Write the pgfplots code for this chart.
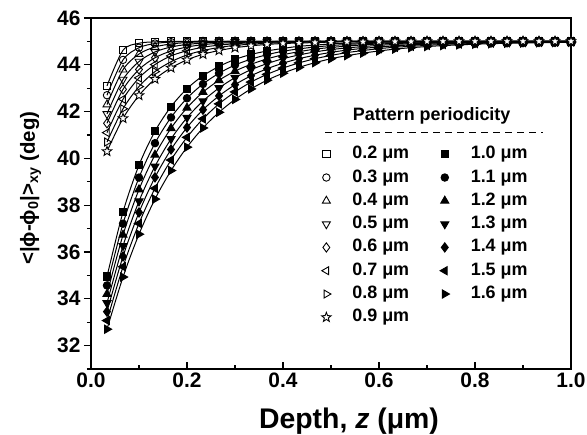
\documentclass[border=0pt]{standalone}
\usepackage{fontspec}
\setmainfont{Liberation Sans}
\usepackage{pgfplots}
\usepackage{pgfplotstable}
\pgfplotsset{compat=1.18}
\usetikzlibrary{plotmarks}

\pgfdeclareplotmark{ostar}{%
 \pgfpathmoveto{\pgfpointpolar{90}{\pgfplotmarksize}}%
 \pgfpathlineto{\pgfpointpolar{126}{0.42\pgfplotmarksize}}%
 \pgfpathlineto{\pgfpointpolar{162}{\pgfplotmarksize}}%
 \pgfpathlineto{\pgfpointpolar{198}{0.42\pgfplotmarksize}}%
 \pgfpathlineto{\pgfpointpolar{234}{\pgfplotmarksize}}%
 \pgfpathlineto{\pgfpointpolar{270}{0.42\pgfplotmarksize}}%
 \pgfpathlineto{\pgfpointpolar{306}{\pgfplotmarksize}}%
 \pgfpathlineto{\pgfpointpolar{342}{0.42\pgfplotmarksize}}%
 \pgfpathlineto{\pgfpointpolar{18}{\pgfplotmarksize}}%
 \pgfpathlineto{\pgfpointpolar{54}{0.42\pgfplotmarksize}}%
 \pgfpathclose
 \pgfusepathqfillstroke
}

% open-symbol series: 0.2 ... 0.9 um
\pgfplotstableread{
z a b c d e f g h
0.0333 43.10 42.70 42.30 41.90 41.50 41.10 40.70 40.30
0.0667 44.62 44.21 43.79 43.37 42.95 42.53 42.12 41.71
0.1000 44.92 44.73 44.46 44.14 43.80 43.44 43.07 42.69
0.1333 44.98 44.91 44.76 44.55 44.30 44.01 43.71 43.39
0.1667 45.00 44.97 44.89 44.76 44.59 44.38 44.13 43.87
0.2000 45.00 44.99 44.95 44.87 44.76 44.60 44.42 44.21
0.2333 45.00 45.00 44.98 44.93 44.86 44.75 44.61 44.45
0.2667 45.00 45.00 44.99 44.97 44.92 44.84 44.74 44.61
0.3000 45.00 45.00 45.00 44.98 44.95 44.90 44.83 44.73
0.3333 45.00 45.00 45.00 44.99 44.97 44.94 44.88 44.81
0.3667 45.00 45.00 45.00 44.99 44.98 44.96 44.92 44.87
0.4000 45.00 45.00 45.00 45.00 44.99 44.97 44.95 44.91
0.4333 45.00 45.00 45.00 45.00 44.99 44.98 44.96 44.93
0.4667 45.00 45.00 45.00 45.00 45.00 44.99 44.98 44.95
0.5000 45.00 45.00 45.00 45.00 45.00 44.99 44.98 44.97
0.5333 45.00 45.00 45.00 45.00 45.00 45.00 44.99 44.98
0.5667 45.00 45.00 45.00 45.00 45.00 45.00 44.99 44.98
0.6000 45.00 45.00 45.00 45.00 45.00 45.00 45.00 44.99
0.6333 45.00 45.00 45.00 45.00 45.00 45.00 45.00 44.99
0.6667 45.00 45.00 45.00 45.00 45.00 45.00 45.00 44.99
0.7000 45.00 45.00 45.00 45.00 45.00 45.00 45.00 45.00
0.7333 45.00 45.00 45.00 45.00 45.00 45.00 45.00 45.00
0.7667 45.00 45.00 45.00 45.00 45.00 45.00 45.00 45.00
0.8000 45.00 45.00 45.00 45.00 45.00 45.00 45.00 45.00
0.8333 45.00 45.00 45.00 45.00 45.00 45.00 45.00 45.00
0.8667 45.00 45.00 45.00 45.00 45.00 45.00 45.00 45.00
0.9000 45.00 45.00 45.00 45.00 45.00 45.00 45.00 45.00
0.9333 45.00 45.00 45.00 45.00 45.00 45.00 45.00 45.00
0.9667 45.00 45.00 45.00 45.00 45.00 45.00 45.00 45.00
1.0000 45.00 45.00 45.00 45.00 45.00 45.00 45.00 45.00
}\tabopen

% filled-symbol series: 1.0 ... 1.6 um
\pgfplotstableread{
z i j k l m n o
0.0333 34.95 34.57 34.20 33.82 33.45 33.07 32.70
0.0667 37.71 37.21 36.73 36.26 35.81 35.37 34.93
0.1000 39.71 39.18 38.67 38.17 37.69 37.22 36.76
0.1333 41.16 40.65 40.15 39.66 39.19 38.72 38.26
0.1667 42.21 41.75 41.29 40.83 40.38 39.93 39.48
0.2000 42.98 42.57 42.16 41.74 41.32 40.90 40.48
0.2333 43.53 43.18 42.83 42.45 42.08 41.69 41.30
0.2667 43.93 43.64 43.34 43.01 42.67 42.33 41.97
0.3000 44.23 43.99 43.73 43.45 43.15 42.84 42.52
0.3333 44.44 44.24 44.02 43.79 43.53 43.26 42.97
0.3667 44.59 44.43 44.25 44.05 43.83 43.59 43.34
0.4000 44.70 44.58 44.43 44.26 44.07 43.86 43.64
0.4333 44.79 44.68 44.56 44.42 44.26 44.08 43.89
0.4667 44.84 44.76 44.67 44.55 44.41 44.26 44.09
0.5000 44.89 44.82 44.74 44.65 44.53 44.40 44.26
0.5333 44.92 44.87 44.80 44.72 44.63 44.52 44.39
0.5667 44.94 44.90 44.85 44.78 44.70 44.61 44.50
0.6000 44.96 44.93 44.89 44.83 44.76 44.69 44.59
0.6333 44.97 44.94 44.91 44.87 44.81 44.75 44.67
0.6667 44.98 44.96 44.93 44.90 44.85 44.79 44.73
0.7000 44.98 44.97 44.95 44.92 44.88 44.83 44.78
0.7333 44.99 44.98 44.96 44.94 44.91 44.87 44.82
0.7667 44.99 44.98 44.97 44.95 44.92 44.89 44.85
0.8000 44.99 44.99 44.98 44.96 44.94 44.91 44.88
0.8333 45.00 44.99 44.98 44.97 44.95 44.93 44.90
0.8667 45.00 44.99 44.99 44.98 44.96 44.94 44.92
0.9000 45.00 44.99 44.99 44.98 44.97 44.95 44.93
0.9333 45.00 45.00 44.99 44.99 44.98 44.96 44.94
0.9667 45.00 45.00 44.99 44.99 44.98 44.97 44.95
1.0000 45.00 45.00 45.00 44.99 44.98 44.98 44.96
}\tabfilled

\begin{document}
\begin{tikzpicture}[x=1bp,y=1bp]
\useasboundingbox (-91,-66) rectangle (496,369);
\begin{axis}[
  at={(0,0)}, anchor=south west,
  scale only axis, width=480bp, height=351bp,
  xmin=0, xmax=1, ymin=31, ymax=46,
  xtick={0,0.2,0.4,0.6,0.8,1},
  minor xtick={0.1,0.3,0.5,0.7,0.9},
  ytick={32,34,36,38,40,42,44,46},
  minor ytick={31,33,35,37,39,41,43,45},
  xtick pos=bottom, ytick pos=left,
  xtick align=inside, ytick align=outside,
  major tick length=7bp, minor tick length=4bp,
  every tick/.style={black, line width=1.3bp},
  axis line style={line width=1.6bp},
  /pgf/number format/assume math mode=true,
  tick label style={font=\fontsize{21}{25}\selectfont\bfseries},
  xticklabel style={/pgf/number format/.cd, fixed, fixed zerofill, precision=1},
  yticklabel style={/pgf/number format/.cd, fixed, precision=0},
  xlabel={Depth, \textit{z} (μm)},
  xlabel style={font=\fontsize{28.5}{32}\selectfont\bfseries,
     at={(rel axis cs:0.5375,0)}, anchor=base, yshift=-59bp},
  ylabel={<|ϕ-ϕ\textsubscript{0}|>\textsubscript{xy} (deg)},
  ylabel style={font=\fontsize{20.5}{24}\selectfont\bfseries,
     at={(rel axis cs:-0.1167,0.515)}, anchor=base},
  every axis plot/.append style={black, line width=1bp, smooth},
  legend columns=2,
  legend cell align=left,
  legend image code/.code={\path[draw=none, fill=none] (0bp,-2bp) rectangle (26bp,2bp); \draw[#1, sharp plot] plot coordinates {(0bp,0bp)};},
  legend style={draw=none, fill=none, inner sep=0pt, at={(axis cs:0.480,40.55)}, anchor=north west,
     font=\fontsize{18}{20}\selectfont\bfseries,
     nodes={inner sep=0bp, text height=13bp, text depth=4bp},
     row sep=6.3bp,
     /tikz/every odd column/.append style={column sep=0bp},
     /tikz/every even column/.append style={column sep=31bp}},
]
\addplot[mark=square, mark size=3.6bp, mark options={fill=white, line width=0.9bp}] table[x=z,y=a]{\tabopen};
\addlegendentry{0.2 μm}
\addplot[mark=square*, mark size=3.6bp, mark options={fill=black}] table[x=z,y=i]{\tabfilled};
\addlegendentry{1.0 μm}
\addplot[mark=o, mark size=3.7bp, mark options={fill=white, line width=0.9bp}] table[x=z,y=b]{\tabopen};
\addlegendentry{0.3 μm}
\addplot[mark=*, mark size=3.7bp, mark options={fill=black}] table[x=z,y=j]{\tabfilled};
\addlegendentry{1.1 μm}
\addplot[mark=triangle, mark size=4.6bp, mark options={fill=white, line width=0.9bp}] table[x=z,y=c]{\tabopen};
\addlegendentry{0.4 μm}
\addplot[mark=triangle*, mark size=4.6bp, mark options={fill=black}] table[x=z,y=k]{\tabfilled};
\addlegendentry{1.2 μm}
\addplot[mark=triangle, mark size=4.6bp, mark options={fill=white, line width=0.9bp, rotate=180}] table[x=z,y=d]{\tabopen};
\addlegendentry{0.5 μm}
\addplot[mark=triangle*, mark size=4.6bp, mark options={fill=black, rotate=180}] table[x=z,y=l]{\tabfilled};
\addlegendentry{1.3 μm}
\addplot[mark=diamond, mark size=4.6bp, mark options={fill=white, line width=0.9bp}] table[x=z,y=e]{\tabopen};
\addlegendentry{0.6 μm}
\addplot[mark=diamond*, mark size=4.6bp, mark options={fill=black}] table[x=z,y=m]{\tabfilled};
\addlegendentry{1.4 μm}
\addplot[mark=triangle, mark size=4.6bp, mark options={fill=white, line width=0.9bp, rotate=90}] table[x=z,y=f]{\tabopen};
\addlegendentry{0.7 μm}
\addplot[mark=triangle*, mark size=4.6bp, mark options={fill=black, rotate=90}] table[x=z,y=n]{\tabfilled};
\addlegendentry{1.5 μm}
\addplot[mark=triangle, mark size=4.6bp, mark options={fill=white, line width=0.9bp, rotate=-90}] table[x=z,y=g]{\tabopen};
\addlegendentry{0.8 μm}
\addplot[mark=triangle*, mark size=4.6bp, mark options={fill=black, rotate=-90}] table[x=z,y=o]{\tabfilled};
\addlegendentry{1.6 μm}
\addplot[mark=ostar, mark size=5bp, mark options={fill=white, line width=0.9bp}] table[x=z,y=h]{\tabopen};
\addlegendentry{0.9 μm}
\node[font=\fontsize{18}{20}\selectfont\bfseries] at (axis cs:0.7098,41.81) {Pattern periodicity};
\draw[black, line width=1.2bp, dash pattern=on 7bp off 5bp] (axis cs:0.4875,41.10) -- (axis cs:0.9417,41.10);
\end{axis}
\end{tikzpicture}
\end{document}
